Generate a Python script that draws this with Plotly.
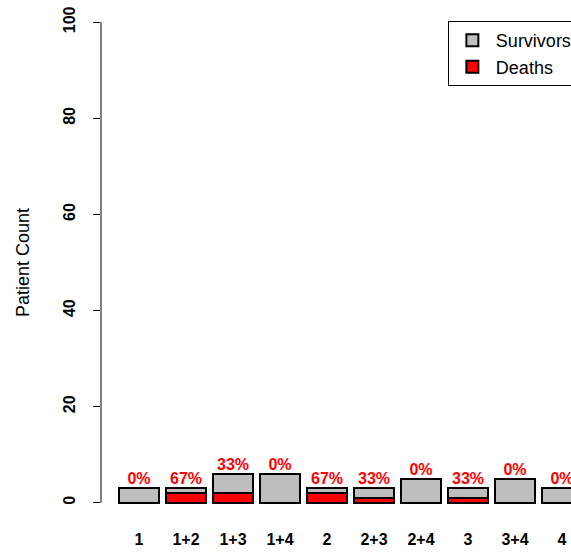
import plotly.graph_objects as go

# Treatment groups and patient outcomes
groups = ["1", "1+2", "1+3", "1+4", "2", "2+3", "2+4", "3", "3+4", "4"]
totals = [3, 3, 6, 6, 3, 3, 5, 3, 5, 3]
deaths = [0, 2, 2, 0, 2, 1, 0, 1, 0, 0]
survivors = [t - d for t, d in zip(totals, deaths)]
pct_labels = [f"{round(100 * d / t)}%" for d, t in zip(deaths, totals)]
y_ticks = [0, 20, 40, 60, 80, 100]

FONT = "Liberation Sans, Arial, Helvetica, sans-serif"
xpos = list(range(len(groups)))

fig = go.Figure()
fig.add_trace(go.Bar(
    x=xpos, y=deaths, name="Deaths", width=0.833,
    marker=dict(color="#FF0000", line=dict(color="black", width=2)),
))
fig.add_trace(go.Bar(
    x=xpos, y=survivors, name="Survivors", width=0.833,
    marker=dict(color="#BEBEBE", line=dict(color="black", width=2)),
))
fig.add_trace(go.Scatter(
    x=xpos, y=totals, mode="text", text=pct_labels,
    textposition="top center", showlegend=False, hoverinfo="skip",
    textfont=dict(family=FONT, size=16, color="#FF0000", weight=700),
))

# y-axis line spans only the 0-100 data range
fig.add_shape(type="line", xref="paper", yref="y", x0=0, x1=0, y0=0, y1=100,
              line=dict(color="black", width=1))

fig.update_layout(
    width=571, height=553,
    margin=dict(l=101, r=0, t=3, b=31, autoexpand=False),
    paper_bgcolor="white", plot_bgcolor="white",
    barmode="stack", bargap=0,
    font=dict(family=FONT, color="black"),
    legend=dict(
        x=0.738, y=0.965, xanchor="left", yanchor="top",
        traceorder="reversed",
        bordercolor="black", borderwidth=1, bgcolor="white",
        font=dict(family=FONT, size=18, color="black"),
        itemsizing="constant", tracegroupgap=0, itemwidth=37,
    ),
    xaxis=dict(
        range=[-0.809, 9.191], tickvals=xpos, ticktext=groups,
        showline=False, showgrid=False, zeroline=False, ticks="",
        tickfont=dict(family=FONT, size=16, color="black", weight=700),
        ticklabelstandoff=6,
    ),
    yaxis=dict(
        range=[-4, 104], tickvals=y_ticks,
        showline=False, showgrid=False, zeroline=False,
        ticks="outside", ticklen=7, tickwidth=1, tickcolor="black",
        tickangle=-90,
        tickfont=dict(family=FONT, size=16, color="black", weight=700),
        ticklabelstandoff=12,
        title=dict(text="Patient Count", standoff=26,
                   font=dict(family=FONT, size=18, color="black")),
    ),
)

fig.write_html("out.html")
